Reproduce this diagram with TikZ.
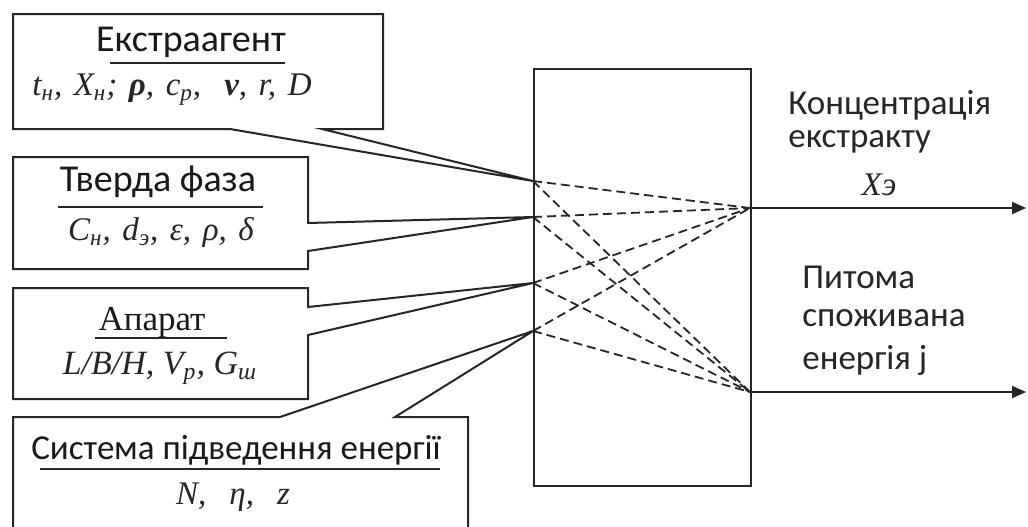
\documentclass[tikz,border=0pt]{standalone}
\usepackage{fontspec}
\setmainfont{Carlito}
\newfontfamily\tms{Liberation Serif}
\usetikzlibrary{arrows.meta}
\tikzset{
  box/.style={draw=black!85, line width=1pt, line join=miter},
  dash line/.style={draw=black!85, line width=0.9pt, dash pattern=on 4.5pt off 2.5pt},
  out line/.style={draw=black!85, line width=1pt, -{Triangle[length=7pt,width=6pt]}},
  ulab/.style={font=\fontsize{19}{22}\selectfont, text=black!90, inner sep=0pt},
  flab/.style={font=\tms\itshape\fontsize{16.5}{19}\selectfont, text=black!85, inner sep=0pt},
  rlab/.style={font=\fontsize{17.5}{20}\selectfont, text=black!85, inner sep=0pt, anchor=west},
  uline/.style={draw=black!85, line width=1pt}
}
\newcommand\gp{\hspace{0.35em}}
\begin{document}
\begin{tikzpicture}[x=0.5pt,y=-0.5pt]
\useasboundingbox (0,0) rectangle (1028,526);
\clip (0,0) rectangle (1028,526);
\fill[white] (0,0) rectangle (1028,526);
% central block
\node[box, minimum width=108.5pt, minimum height=208.5pt, inner sep=0pt, anchor=north west] (blk) at (533,68) {};
\coordinate (in1) at (533,181);
\coordinate (in2) at (533,217);
\coordinate (in3) at (533,283);
\coordinate (in4) at (533,331);
\coordinate (o1) at (750,208);
\coordinate (o2) at (750,392);
\coordinate (e1) at (1026,208);
\coordinate (e2) at (1026,392);
% callout boxes
\draw[box] (13,14) -- (383,14) -- (383,129) -- (322,129) -- (in1) -- (230,129) -- (13,129) -- cycle;
\draw[box] (13,157) -- (308,157) -- (308,223) -- (in2) -- (308,251) -- (308,269) -- (13,269) -- cycle;
\draw[box] (13,288) -- (308,288) -- (308,307) -- (in3) -- (308,335) -- (308,399) -- (13,399) -- cycle;
\draw[box] (13,560) -- (13,417) -- (280,417) -- (in4) -- (395,417) -- (468,417) -- (468,560);
% dashed internal links
\foreach \i in {1,2,3,4}{
  \draw[dash line] (in\i) -- (o1);
  \draw[dash line] (in\i) -- (o2);
}
% outputs
\draw[out line] (o1) -- (e1);
\draw[out line] (o2) -- (e2);
% box texts
\node[ulab] (t1) at (191,42) {Екстраагент};
\draw[uline] (110,63) -- (285,63);
\node[flab] (f1) at (172,90) {t\textsubscript{н},\gp X\textsubscript{н};\gp {\bfseries ρ},\gp c\textsubscript{p},\gp\gp {\bfseries ν},\gp r,\gp D};
\node[ulab] (t2) at (158,182) {Тверда фаза};
\draw[uline] (58,207) -- (263,207);
\node[flab] (f2) at (161,232) {C\textsubscript{н},\gp d\textsubscript{э},\gp ε,\gp ρ,\gp δ};
\node[ulab, font=\tms\fontsize{17.5}{20}\selectfont] (t3) at (152,323) {Апарат};
\draw[uline] (95,338) -- (227,338);
\node[flab, font=\tms\itshape\fontsize{17}{20}\selectfont] (f3) at (160,368) {L/B/H, V\textsubscript{p}, G\textsubscript{ш}};
\node[ulab, font=\fontsize{17.5}{20}\selectfont] (t4) at (236,450) {Система підведення енергії};
\draw[uline] (40,469) -- (440,469);
\node[flab] (f4) at (233,497) {N,\gp\gp η,\gp\gp z};
% output labels
\node[rlab] (r1) at (788,105) {Концентрація};
\node[rlab] (r2) at (788,142) {екстракту};
\node[flab] (r3) at (879,185) {Xэ};
\node[rlab] (r4) at (802,277) {Питома};
\node[rlab] (r5) at (802,318) {споживана};
\node[rlab] (r6) at (802,360) {енергія j};
\end{tikzpicture}
\end{document}
